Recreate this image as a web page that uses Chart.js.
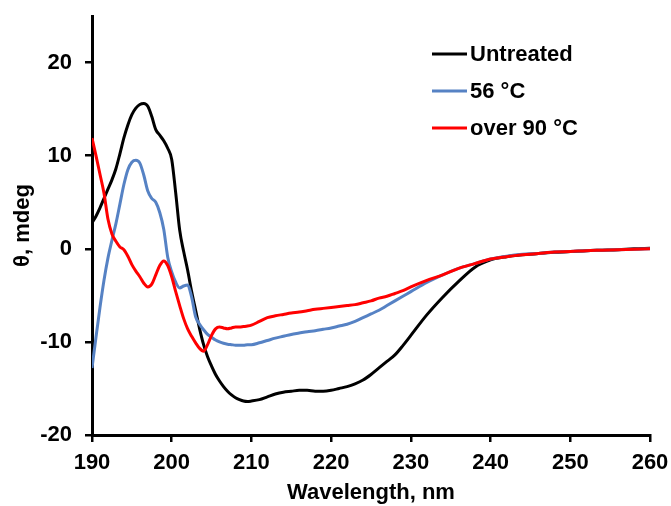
<!DOCTYPE html>
<html lang="en">

<head>
    <meta charset="UTF-8">
    <script src="https://cdn.jsdelivr.net/npm/chart.js"></script>
    <title>CD spectra</title>
    <style>
        body {
            margin: 0;
            background: #fff;
        }
    </style>
</head>

<body>
    <canvas id="cdChart" width="671" height="506"></canvas>
    <script>
        // wavelengths (nm), shared by all three series
        const wavelengths = [
            190, 190.5, 191, 191.5, 192, 192.5, 193, 193.5, 194, 194.5,
            195, 195.5, 196, 196.5, 197, 197.5, 198, 198.5, 199, 199.5,
            200, 200.5, 201, 201.5, 202, 202.5, 203, 203.5, 204, 204.5,
            205, 205.5, 206, 206.5, 207, 207.5, 208, 208.5, 209, 209.5,
            210, 211, 212, 213, 214, 215, 216, 217, 218, 219,
            220, 221, 222, 223, 224, 225, 226, 227, 228, 229,
            230, 232, 234, 236, 238, 240, 242, 244, 246, 248,
            250, 252, 254, 256, 258, 260
        ];

        const untreated = [
            2.8, 3.5, 4.4, 5.4, 6.4, 7.4, 8.6, 10.2, 11.9, 13.3,
            14.4, 15.1, 15.5, 15.6, 15.3, 14.2, 12.8, 12.2, 11.6, 10.8,
            9.6, 6.0, 2.0, -0.3, -2.3, -4.6, -6.6, -8.6, -10.3, -11.6,
            -12.6, -13.5, -14.2, -14.8, -15.3, -15.7, -16.0, -16.2, -16.35, -16.4,
            -16.35, -16.2, -15.9, -15.6, -15.4, -15.3, -15.2, -15.2, -15.3, -15.3,
            -15.2, -15.0, -14.8, -14.5, -14.1, -13.5, -12.8, -12.1, -11.4, -10.4,
            -9.3, -7.1, -5.2, -3.5, -2.0, -1.2, -0.85, -0.65, -0.5, -0.38,
            -0.3, -0.2, -0.15, -0.1, 0.0, 0.05
        ];

        const heated56 = [
            -12.8, -9.5, -6.3, -3.4, -1.0, 0.9, 2.7, 4.8, 6.9, 8.5,
            9.3, 9.5, 9.2, 7.9, 6.2, 5.4, 5.0, 3.9, 2.1, -0.9,
            -2.5, -3.6, -4.2, -4.0, -3.9, -5.2, -7.3, -8.1, -8.7, -9.2,
            -9.5, -9.8, -10.0, -10.15, -10.25, -10.3, -10.35, -10.35, -10.35, -10.3,
            -10.3, -10.1, -9.85, -9.6, -9.4, -9.2, -9.05, -8.9, -8.8, -8.65,
            -8.5, -8.3, -8.1, -7.8, -7.4, -7.0, -6.6, -6.1, -5.6, -5.1,
            -4.6, -3.6, -2.8, -2.1, -1.6, -1.1, -0.8, -0.6, -0.5, -0.35,
            -0.3, -0.2, -0.15, -0.1, -0.05, 0.0
        ];

        const heated90 = [
            11.9, 10.0, 8.0, 6.0, 3.2, 1.6, 0.8, 0.2, -0.1, -0.8,
            -1.7, -2.4, -3.0, -3.7, -4.1, -3.8, -2.8, -1.8, -1.3, -1.8,
            -3.0, -4.6, -6.1, -7.5, -8.6, -9.4, -10.1, -10.7, -11.0, -10.3,
            -9.3, -8.6, -8.4, -8.5, -8.6, -8.5, -8.4, -8.4, -8.35, -8.3,
            -8.2, -7.8, -7.4, -7.2, -7.05, -6.9, -6.8, -6.65, -6.5, -6.4,
            -6.3, -6.2, -6.1, -6.0, -5.8, -5.6, -5.3, -5.1, -4.8, -4.5,
            -4.1, -3.4, -2.8, -2.1, -1.6, -1.1, -0.85, -0.65, -0.5, -0.35,
            -0.3, -0.2, -0.15, -0.1, -0.05, 0.0
        ];

        const seriesLabels = ['Untreated', '56 \u00B0C', 'over 90 \u00B0C'];
        const seriesColors = ['#000000', '#5682c4', '#ff0000'];
        const xTicks = [190, 200, 210, 220, 230, 240, 250, 260];
        const yTicks = [-20, -10, 0, 10, 20];

        const boldFont = { family: "'Liberation Sans', Arial, sans-serif", size: 22, weight: 'bold' };

        function toPoints(values) {
            return wavelengths.map((w, i) => ({ x: w, y: values[i] }));
        }

        // legend drawn inside the plot, like the original
        const innerLegend = {
            id: 'innerLegend',
            afterDraw(chart) {
                const ctx = chart.ctx;
                ctx.save();
                ctx.font = 'bold 22px "Liberation Sans", Arial, sans-serif';
                ctx.textBaseline = 'middle';
                ctx.fillStyle = '#000';
                seriesLabels.forEach((label, i) => {
                    const y = 54 + i * 37;
                    ctx.strokeStyle = seriesColors[i];
                    ctx.lineWidth = 3;
                    ctx.beginPath();
                    ctx.moveTo(432, y);
                    ctx.lineTo(467, y);
                    ctx.stroke();
                    ctx.fillText(label, 470, y + 1);
                });
                ctx.restore();
            }
        };

        const datasets = [untreated, heated56, heated90].map((vals, i) => ({
            label: seriesLabels[i],
            data: toPoints(vals),
            borderColor: seriesColors[i],
            borderWidth: 3,
            pointRadius: 0,
            cubicInterpolationMode: 'monotone',
            order: 3 - i
        }));

        const ctx = document.getElementById('cdChart').getContext('2d');
        const cdChart = new Chart(ctx, {
            type: 'line',
            data: { datasets: datasets },
            options: {
                responsive: false,
                animation: false,
                layout: { padding: { top: 16, right: 21, left: 0, bottom: 0 } },
                plugins: {
                    legend: { display: false },
                    tooltip: { enabled: false }
                },
                scales: {
                    x: {
                        type: 'linear',
                        min: 190,
                        max: 260,
                        afterBuildTicks: axis => { axis.ticks = xTicks.map(v => ({ value: v })); },
                        afterFit: axis => {
                            axis.height = 71;
                            axis.paddingLeft = 0;
                            axis.paddingRight = 0;
                        },
                        border: { color: '#000', width: 3 },
                        grid: { drawOnChartArea: false, tickLength: 7, color: '#000', lineWidth: 2.5 },
                        ticks: { color: '#000', font: boldFont, padding: 8, maxRotation: 0 },
                        title: {
                            display: true,
                            text: 'Wavelength, nm',
                            color: '#000',
                            font: boldFont,
                            padding: { top: 0, bottom: 0 }
                        }
                    },
                    y: {
                        min: -20,
                        max: 25,
                        afterBuildTicks: axis => { axis.ticks = yTicks.map(v => ({ value: v })); },
                        afterFit: axis => {
                            axis.width = 92;
                            axis.paddingTop = 0;
                            axis.paddingBottom = 0;
                        },
                        border: { color: '#000', width: 3 },
                        grid: { drawOnChartArea: false, tickLength: 7, color: '#000', lineWidth: 2.5 },
                        ticks: { color: '#000', font: boldFont, padding: 13 },
                        title: {
                            display: true,
                            text: '\u03B8, mdeg',
                            color: '#000',
                            font: boldFont,
                            padding: { top: 10, bottom: 0 }
                        }
                    }
                }
            },
            plugins: [innerLegend]
        });
    </script>
</body>

</html>
